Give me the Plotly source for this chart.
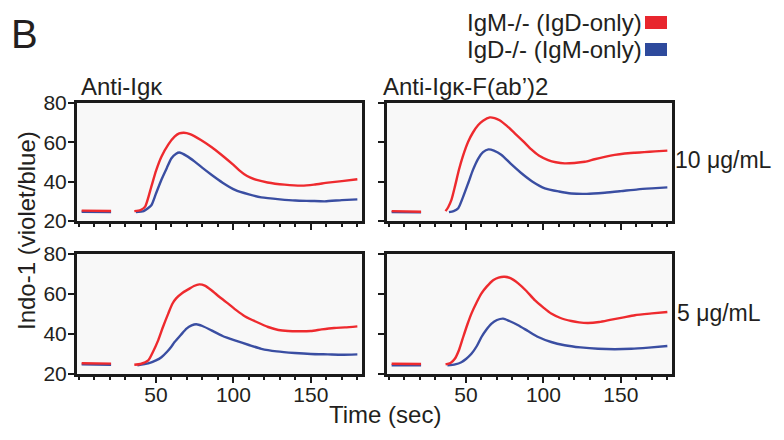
import plotly.graph_objects as go

# ---------------- data ----------------
# Anti-Igk, 10 ug/mL (top-left)
tl_red_t = [2, 21, None, 36, 40, 43, 47, 50, 53.5, 58, 62, 65, 68, 72, 79, 86, 92, 100, 104, 107, 111, 115, 122, 133, 144, 152, 161, 170, 180]
tl_red_v = [25.3, 25.1, None, 25, 25.5, 27.3, 37.5, 45.5, 52.7, 59, 62.9, 64.5, 64.9, 64.2, 61.2, 57.5, 53.8, 48.5, 45.6, 43.8, 42.1, 40.9, 39.6, 38.5, 38, 38.5, 39.5, 40.3, 41.2]
tl_blue_t = [2, 21, None, 37, 42, 47, 50, 53.5, 57, 60, 63, 65, 70, 75, 80, 86, 93, 101, 110, 118, 130, 140, 150, 159, 170, 180]
tl_blue_v = [24.7, 24.6, None, 24.5, 25, 28, 34, 41, 47, 51.9, 54.2, 54.8, 53, 50.2, 47, 43.4, 39.5, 35.8, 33.5, 32, 31, 30.4, 30.2, 30, 30.6, 31]

# Anti-Igk-F(ab')2, 10 ug/mL (top-right)
tr_red_t = [2, 21, None, 36.8, 38.5, 40.6, 43, 45.4, 48, 51.4, 54.5, 57.9, 61, 65.4, 68.5, 71.7, 76, 81.5, 87, 92, 97, 103, 108, 113.7, 120, 126.7, 133, 139.6, 146, 152.5, 159, 165, 172, 180]
tr_red_v = [25, 24.7, None, 25, 27, 30.7, 38, 45.9, 53, 60.3, 65, 68.8, 71, 72.7, 72.3, 71.2, 68.6, 64.6, 60.5, 56.5, 53.3, 51, 49.9, 49.3, 49.5, 50.1, 51.4, 52.6, 53.6, 54.3, 54.7, 55, 55.4, 55.8]
tr_blue_t = [2, 21, None, 39, 42, 45, 48, 51.4, 54.5, 58, 61, 64.5, 68, 73, 79, 85.8, 93, 100.9, 110, 118, 128, 139.6, 150, 161, 170, 180]
tr_blue_v = [24.5, 24.4, None, 24.5, 25, 26.5, 32, 39.2, 46, 51.9, 55, 56.4, 55.8, 53.6, 49, 44.3, 40, 36.6, 35, 34, 33.8, 34.4, 35.2, 36.1, 36.6, 37.1]

# Anti-Igk, 5 ug/mL (bottom-left)
bl_red_t = [2, 21, None, 36, 40, 45, 48, 51.4, 54.5, 57.9, 60.5, 63, 67, 70.8, 74.5, 78, 81.5, 85.8, 91, 96.6, 102, 107.3, 115, 122.4, 129, 135.3, 142, 150, 157, 165, 172, 180]
bl_red_v = [25.4, 25.2, None, 24.6, 25, 26.8, 31, 36.8, 43.5, 50.2, 55, 57.8, 60.5, 62.3, 64, 64.8, 64.2, 61.9, 58.5, 55.2, 51.8, 48.9, 46, 43.5, 42, 41.5, 41.4, 41.5, 42.3, 43, 43.3, 43.8]
bl_blue_t = [2, 21, None, 38, 45, 50, 53.5, 57, 60, 62, 66, 69.7, 73, 76, 80, 85.8, 93, 100.9, 110, 118, 128, 139.6, 150, 161, 170, 180]
bl_blue_v = [24.8, 24.6, None, 24.3, 25.3, 26.8, 28.4, 31, 33.8, 36, 39.5, 42.7, 44.3, 44.9, 44, 41.8, 39, 36.8, 34.5, 32.6, 31.3, 30.5, 30, 29.8, 29.6, 29.8]

# Anti-Igk-F(ab')2, 5 ug/mL (bottom-right)
br_red_t = [2, 21, None, 36.8, 40, 42.8, 45.5, 48.2, 51, 53.5, 57, 60, 63.5, 67.5, 71, 75, 79, 83.7, 89, 94.4, 100, 105, 111, 118, 123, 128.8, 136, 143.9, 151, 159, 170, 180]
br_red_v = [25.1, 25, None, 24.8, 25.5, 27.6, 32, 38.5, 45, 50.2, 56, 60.3, 63.8, 66.9, 68.2, 68.6, 67.8, 65.3, 61.5, 56.9, 53.2, 50.2, 48, 46.5, 45.8, 45.5, 46, 47.2, 48.2, 49.4, 50.3, 51]
br_blue_t = [2, 21, None, 38, 43, 47, 50, 53.5, 57, 60, 63, 66.5, 70, 74, 78, 83.7, 90, 96.6, 105, 113.7, 124, 135.3, 146, 156.8, 168, 180]
br_blue_v = [24.4, 24.3, None, 24.3, 24.8, 25.9, 27.5, 30.1, 34, 38.5, 42, 45.2, 47, 47.7, 46.5, 44.4, 41.5, 38.5, 36, 34.4, 33.3, 32.6, 32.4, 32.6, 33.2, 34]

series_names = ["IgM-/- (IgD-only)", "IgD-/- (IgM-only)"]
panel_titles = ["Anti-Igκ", "Anti-Igκ-F(ab’)2"]
dose_labels = ["10 μg/mL", "5 μg/mL"]
y_ticks = [20, 40, 60, 80]
x_ticks = [50, 100, 150]

RED = "#ee2a2e"
BLUE = "#3a4ea2"
TXT = "#231f20"
FONT = "Liberation Sans, Arial, Helvetica, sans-serif"

fig = go.Figure()

panels = [
    ("x", "y", tl_red_t, tl_red_v, tl_blue_t, tl_blue_v),
    ("x2", "y2", tr_red_t, tr_red_v, tr_blue_t, tr_blue_v),
    ("x3", "y3", bl_red_t, bl_red_v, bl_blue_t, bl_blue_v),
    ("x4", "y4", br_red_t, br_red_v, br_blue_t, br_blue_v),
]
for xa, ya, rt, rv, bt, bv in panels:
    fig.add_trace(go.Scatter(x=bt, y=bv, mode="lines", xaxis=xa, yaxis=ya,
                             line=dict(color=BLUE, width=2.4, shape="spline", smoothing=0.6),
                             connectgaps=False, showlegend=False, name=series_names[1]))
    fig.add_trace(go.Scatter(x=rt, y=rv, mode="lines", xaxis=xa, yaxis=ya,
                             line=dict(color=RED, width=2.4, shape="spline", smoothing=0.6),
                             connectgaps=False, showlegend=False, name=series_names[0]))

# page body has an 8px margin; lay out in window pixels and convert
OFF = 8
W, H = 784 - OFF, 440 - OFF

def px(x):
    return (x - OFF) / W

def py(y):
    return 1 - (y - OFF) / H

xl = [px(77), px(362)]
xr = [px(387), px(672)]
yt = [py(221), py(103)]
yb = [py(374), py(254)]

def xaxis(domain, anchor):
    return dict(domain=domain, anchor=anchor, range=[-1, 183], showgrid=False, zeroline=False,
                automargin=False,
                showline=True, linecolor="#1a1a1a", linewidth=3, mirror=True,
                ticks="outside", ticklen=6, tickwidth=2, tickcolor="#1a1a1a",
                tickvals=x_ticks, showticklabels=False, ticklabelstandoff=-6,
                minor=dict(dtick=10, tick0=0, ticks="outside", ticklen=3, tickwidth=1.5, tickcolor="#1a1a1a"),
                tickfont=dict(size=21, color=TXT, family=FONT))

def yaxis(domain, anchor, labels):
    return dict(domain=domain, anchor=anchor, range=[20, 80], showgrid=False, zeroline=False,
                automargin=False,
                showline=True, linecolor="#1a1a1a", linewidth=3, mirror=True,
                ticks="outside", ticklen=6, tickwidth=2, tickcolor="#1a1a1a",
                tickvals=y_ticks, showticklabels=labels, ticklabelstandoff=-3,
                tickfont=dict(size=21, color=TXT, family=FONT))

xa1 = xaxis(xl, "y"); xa2 = xaxis(xr, "y2"); xa3 = xaxis(xl, "y3"); xa4 = xaxis(xr, "y4")
xa3["showticklabels"] = True; xa4["showticklabels"] = True

fig.update_layout(
    template="none",
    width=W, height=H, margin=dict(l=0, r=0, t=0, b=0, pad=0, autoexpand=False),
    paper_bgcolor="white", plot_bgcolor="#f8f8f8",
    font=dict(family=FONT, color=TXT, size=20),
    xaxis=xa1, xaxis2=xa2, xaxis3=xa3, xaxis4=xa4,
    yaxis=yaxis(yt, "x", True), yaxis2=yaxis(yt, "x2", False),
    yaxis3=yaxis(yb, "x3", True), yaxis4=yaxis(yb, "x4", False),
    showlegend=False,
)

def note(text, x, y, size, xanchor="left", angle=0):
    return dict(text=text, x=px(x), y=py(y), xref="paper", yref="paper", xanchor=xanchor,
                yanchor="middle", showarrow=False, textangle=angle, borderpad=0, borderwidth=0,
                font=dict(size=size, color=TXT, family=FONT))

ann = [
    note("B", 11, 34, 40),
    note(panel_titles[0], 81, 86, 24),
    note(panel_titles[1], 383, 86, 24),
    note(dose_labels[0], 675, 160, 23),
    note(dose_labels[1], 677, 313, 23),
    note("Time (sec)", 385, 414, 24, xanchor="center"),
    note("Indo-1 (violet/blue)", 26, 231, 24, xanchor="center", angle=-90),
    note(series_names[0], 642, 22, 24, xanchor="right"),
    note(series_names[1], 642, 49, 24, xanchor="right"),
]
fig.update_layout(annotations=ann)

fig.add_shape(type="rect", xref="paper", yref="paper", x0=px(645), x1=px(667), y0=py(29), y1=py(16),
              fillcolor="#e8262e", line=dict(width=0))
fig.add_shape(type="rect", xref="paper", yref="paper", x0=px(645), x1=px(667), y0=py(56), y1=py(43),
              fillcolor="#2e4a9c", line=dict(width=0))

fig.write_html("out.html")
